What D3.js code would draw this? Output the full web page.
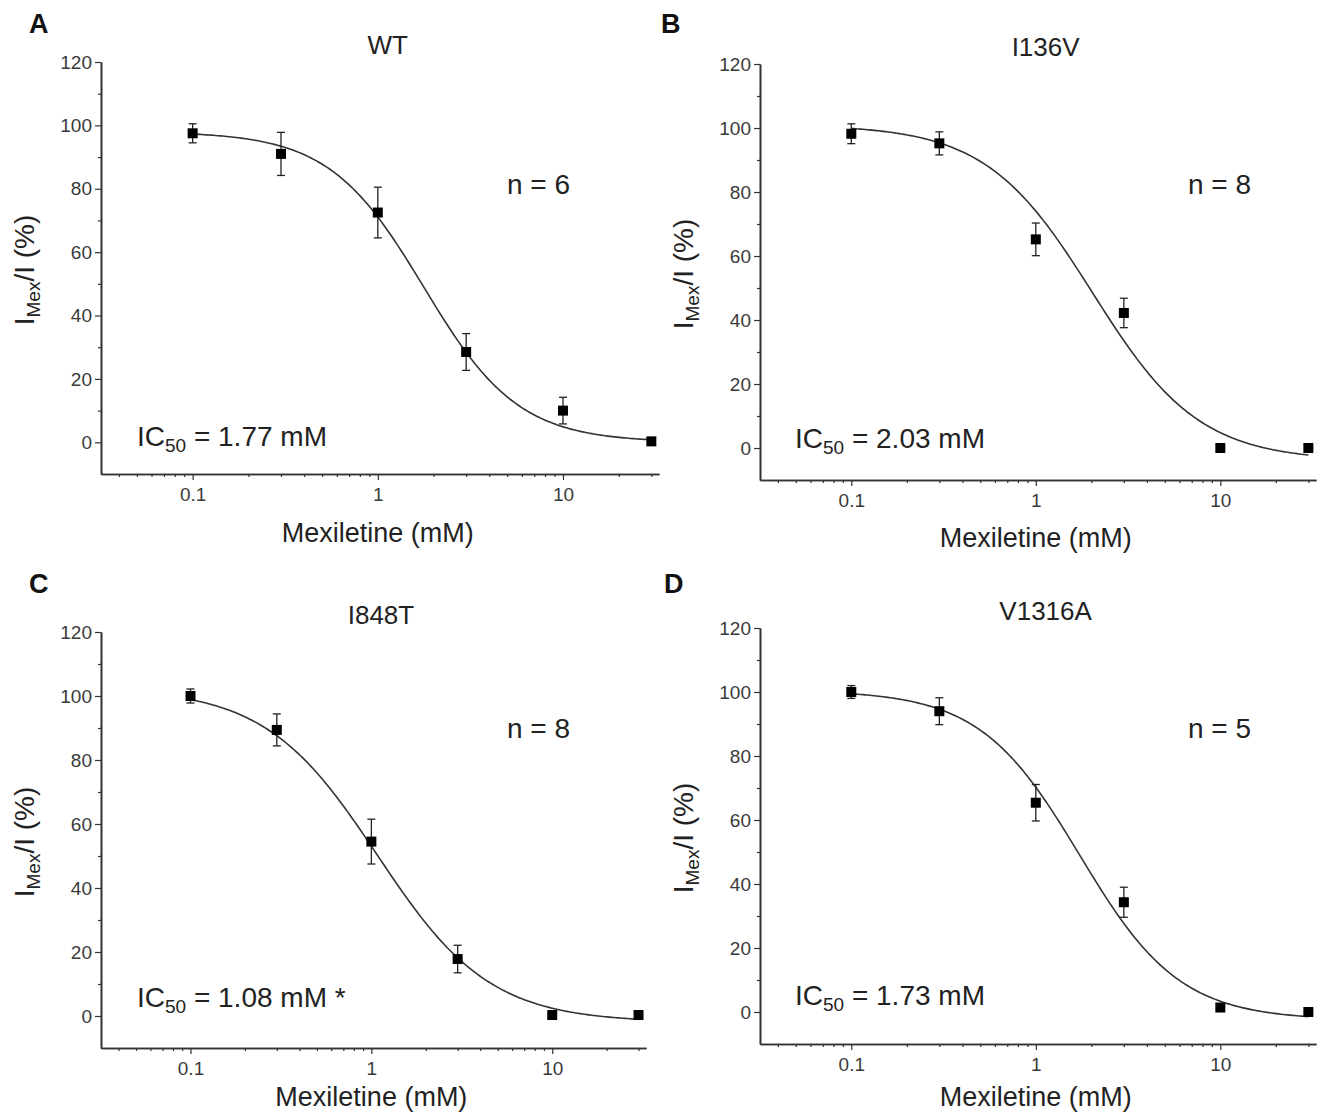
<!DOCTYPE html>
<html>
<head>
<meta charset="utf-8">
<script src="https://cdn.jsdelivr.net/npm/d3@7"></script>
<style>
  body { margin: 0; background: #fff; }
  svg { font-family: "Liberation Sans", Arial, sans-serif; }
</style>
</head>
<body>
<svg id="chart" width="1321" height="1117"></svg>
<script>
// concentrations (mM)
var concentrations = [0.1, 0.3, 1, 3, 10, 30];

var panelLetters = ["A", "B", "C", "D"];
var panelTitles = ["WT", "I136V", "I848T", "V1316A"];

// mean and SEM of I_Mex/I (%)
var meanWT = [97.5, 91, 72.5, 28.5, 10, 0.3];
var semWT = [3, 6.8, 8, 5.8, 4.2, 0.8];
var meanI136V = [98.2, 95.2, 65.2, 42.2, 0, 0];
var semI136V = [3.1, 3.6, 5.1, 4.6, 0, 0];
var meanI848T = [100, 89.4, 54.5, 17.8, 0.3, 0.3];
var semI848T = [2.2, 5, 7, 4.3, 0, 0];
var meanV1316A = [100, 94, 65.4, 34.3, 1.4, 0];
var semV1316A = [2, 4.2, 5.7, 4.7, 0.8, 0];

// Hill fit parameters
var ic50 = [1.77, 2.03, 1.08, 1.73];
var ic50Text = ["1.77 mM", "2.03 mM", "1.08 mM *", "1.73 mM"];
var fitTop = [98, 101, 102.5, 100.5];
var fitBottom = [0, -4, -2, -2.5];
var fitHill = [1.7, 1.5, 1.4, 1.6];
var nCells = [6, 8, 8, 5];

var yTicks = [0, 20, 40, 60, 80, 100, 120];
var yMinorTicks = [10, 30, 50, 70, 90, 110];
var xTicks = [0.1, 1, 10];
var xMinorTicks = [0.04, 0.05, 0.06, 0.07, 0.08, 0.09, 0.2, 0.3, 0.4, 0.5, 0.6, 0.7, 0.8, 0.9,
  2, 3, 4, 5, 6, 7, 8, 9, 20, 30];

var means = [meanWT, meanI136V, meanI848T, meanV1316A];
var sems = [semWT, semI136V, semI848T, semV1316A];

// where each panel sits on the page
var layout = [
  { x0: 101, x1: 659, yt: 62, yb: 474, letterX: 29, letterY: 33, nX: 507, nY: 194, icX: 137, icY: 446, labY: 542 },
  { x0: 760, x1: 1316, yt: 64, yb: 480, letterX: 661, letterY: 33, nX: 1188, nY: 194, icX: 795, icY: 448, labY: 547 },
  { x0: 101, x1: 646, yt: 632, yb: 1048, letterX: 29, letterY: 593, nX: 507, nY: 738, icX: 137, icY: 1007, labY: 1106 },
  { x0: 760, x1: 1316, yt: 628, yb: 1044, letterX: 664, letterY: 593, nX: 1188, nY: 738, icX: 795, icY: 1005, labY: 1106 }
];

var svg = d3.select("#chart");
var axisColor = "#333";
var textColor = "#222";

layout.forEach(function(L, i) {
  var g = svg.append("g");

  var x = d3.scaleLog().domain([0.032, 33]).range([L.x0, L.x1]);
  var y = d3.scaleLinear().domain([-10, 120]).range([L.yb, L.yt]);

  // y axis
  g.append("g").attr("transform", "translate(" + L.x0 + ",0)")
    .call(d3.axisLeft(y).tickValues(yTicks).tickSize(6).tickSizeOuter(0).tickPadding(3));
  g.append("g").attr("transform", "translate(" + L.x0 + ",0)")
    .call(d3.axisLeft(y).tickValues(yMinorTicks).tickSize(3).tickSizeOuter(0).tickFormat(""));

  // x axis
  g.append("g").attr("transform", "translate(0," + L.yb + ")")
    .call(d3.axisBottom(x).tickValues(xTicks).tickSize(6).tickSizeOuter(0).tickPadding(8)
      .tickFormat(function(d) { return d; }));
  g.append("g").attr("transform", "translate(0," + L.yb + ")")
    .call(d3.axisBottom(x).tickValues(xMinorTicks).tickSize(3).tickSizeOuter(0).tickFormat(""));

  g.selectAll(".domain").attr("stroke", axisColor).attr("stroke-width", 1.6);
  g.selectAll(".tick line").attr("stroke", axisColor).attr("stroke-width", 1.2);
  g.selectAll(".tick text").attr("fill", "#3a3a3a").style("font-size", "19px")
    .style("font-family", "'Liberation Sans', Arial, sans-serif");

  // fitted Hill curve
  var fitX = d3.range(0, 201).map(function(k) {
    return Math.pow(10, Math.log10(0.1) + k / 200 * (Math.log10(30) - Math.log10(0.1)));
  });
  var hill = function(c) {
    return fitBottom[i] + (fitTop[i] - fitBottom[i]) / (1 + Math.pow(c / ic50[i], fitHill[i]));
  };
  g.append("path")
    .datum(fitX)
    .attr("fill", "none")
    .attr("stroke", "#333")
    .attr("stroke-width", 1.6)
    .attr("d", d3.line().x(function(c) { return x(c); }).y(function(c) { return y(hill(c)); }));

  // points and error bars
  var pts = concentrations.map(function(c, k) { return { c: c, m: means[i][k], e: sems[i][k] }; });
  var eb = g.append("g").selectAll("g").data(pts).enter().append("g");
  eb.filter(function(d) { return d.e > 0; }).each(function(d) {
    var s = d3.select(this);
    var cx = x(d.c);
    s.append("line").attr("x1", cx).attr("x2", cx).attr("y1", y(d.m - d.e)).attr("y2", y(d.m + d.e))
      .attr("stroke", "#222").attr("stroke-width", 1.3);
    [d.m - d.e, d.m + d.e].forEach(function(v) {
      s.append("line").attr("x1", cx - 4).attr("x2", cx + 4).attr("y1", y(v)).attr("y2", y(v))
        .attr("stroke", "#222").attr("stroke-width", 1.3);
    });
  });
  g.append("g").selectAll("rect").data(pts).enter().append("rect")
    .attr("x", function(d) { return x(d.c) - 5; })
    .attr("y", function(d) { return y(d.m) - 5; })
    .attr("width", 10).attr("height", 10)
    .attr("fill", "#000");

  // labels
  g.append("text").attr("x", L.letterX).attr("y", L.letterY)
    .attr("font-size", 27).attr("font-weight", "bold").attr("fill", "#111").text(panelLetters[i]);

  g.append("text").attr("x", x(1.13)).attr("y", L.yt - 8).attr("text-anchor", "middle")
    .attr("font-size", 26).attr("fill", textColor).text(panelTitles[i]);

  g.append("text").attr("x", x(1)).attr("y", L.labY).attr("text-anchor", "middle")
    .attr("font-size", 27).attr("fill", textColor).text("Mexiletine (mM)");

  var yl = g.append("text")
    .attr("transform", "translate(" + (L.x0 - 67) + "," + ((L.yt + L.yb) / 2 + 2) + ") rotate(-90)")
    .attr("text-anchor", "middle").attr("font-size", 28).attr("fill", textColor);
  yl.append("tspan").text("I");
  yl.append("tspan").attr("font-size", 19).attr("dy", 6).text("Mex");
  yl.append("tspan").attr("dy", -6).text("/I (%)");

  g.append("text").attr("x", L.nX).attr("y", L.nY)
    .attr("font-size", 28).attr("fill", textColor).text("n = " + nCells[i]);

  var ic = g.append("text").attr("x", L.icX).attr("y", L.icY)
    .attr("font-size", 28).attr("fill", textColor);
  ic.append("tspan").text("IC");
  ic.append("tspan").attr("font-size", 19).attr("dy", 6).text("50");
  ic.append("tspan").attr("dy", -6).text(" = " + ic50Text[i]);
});
</script>
</body>
</html>
